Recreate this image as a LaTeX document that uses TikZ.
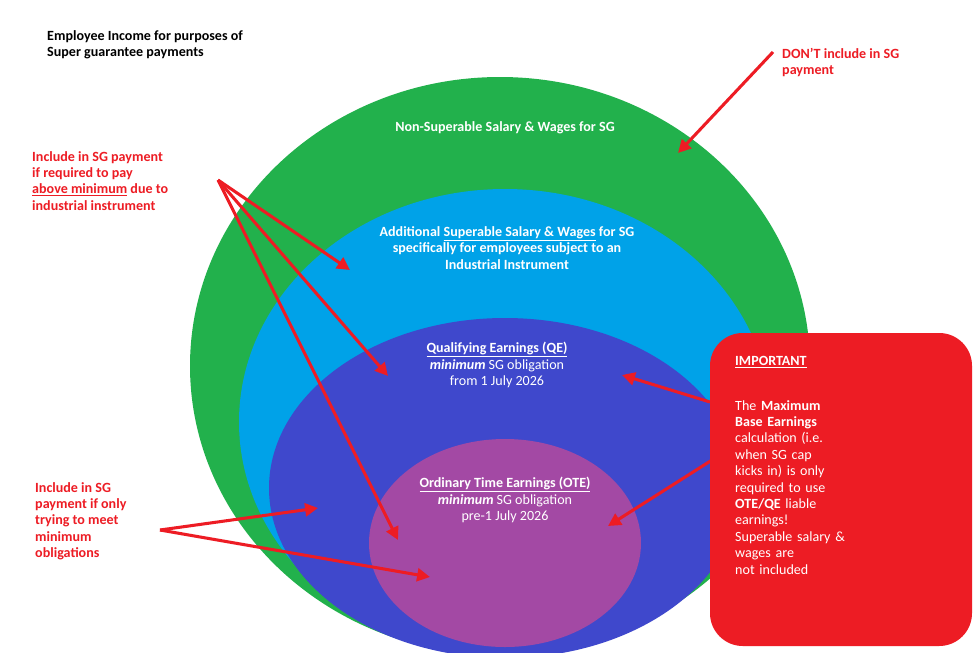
\documentclass[tikz,border=0pt]{standalone}
\usepackage{fontspec}
\setmainfont{Carlito}
\usetikzlibrary{arrows.meta}
\definecolor{sggreen}{RGB}{34,177,76}
\definecolor{sglblue}{RGB}{0,162,232}
\definecolor{sgdblue}{RGB}{63,72,204}
\definecolor{sgpurple}{RGB}{163,73,164}
\definecolor{sgred}{RGB}{237,28,36}
\tikzset{
  lbl/.style={font=\bfseries\large, align=center, text=white, inner sep=0pt},
  note/.style={font=\bfseries\large, align=left, text=sgred, anchor=north west, inner sep=0pt},
  pointer/.style={draw=sgred, line width=2.6pt, -{Triangle[length=11pt,width=11pt]}}
}
\begin{document}
\begin{tikzpicture}[x=0.03cm, y=-0.03cm]
\useasboundingbox (0,0) rectangle (975,664);
\fill[white] (0,0) rectangle (975,664);
% nested earnings
\begin{scope}
\clip (0,0) rectangle (975,652);
\fill[sggreen] (500,366) ellipse (310 and 289);
\fill[sglblue] (505,422) ellipse (266 and 233);
\fill[sgdblue] (505,488) ellipse (236 and 170);
\fill[sgpurple] (505,543) ellipse (136 and 104);
\end{scope}
\fill[sgred, rounded corners=28pt] (710,333) rectangle (972,646);
% texts
\node[font=\bfseries\large, align=left, anchor=north west, inner sep=0pt] (title) at (47,30)
  {Employee Income for purposes of\\Super guarantee payments};
\node[note] (dont) at (782,48) {DON'T include in SG\\payment};
\node[lbl] (nonsup) at (505,128) {Non-Superable Salary \& Wages for SG};
\node[lbl] (addsup) at (507,248) {Additional \underline{Superable Salary \& Wages} for SG\\specifically for employees subject to an\\Industrial Instrument};
\node[lbl] (qe) at (497,365) {\underline{Qualifying Earnings (QE)}\\\textit{minimum} \mdseries SG obligation\\\mdseries from 1 July 2026};
\node[lbl] (ote) at (505,500) {\underline{Ordinary Time Earnings (OTE)}\\\textit{minimum} \mdseries SG obligation\\\mdseries pre-1 July 2026};
\node[note] (above) at (32,151) {Include in SG payment\\if required to pay\\\underline{above minimum} due to\\industrial instrument};
\node[note] (onlymin) at (35,482) {Include in SG\\payment if only\\trying to meet\\minimum\\obligations};
\node[lbl, anchor=north west, align=left] (imp) at (735,356) {\underline{IMPORTANT}};
\node[lbl, anchor=north west, align=left, font=\large, text width=235\pgflinewidth] (impt) at (735,400)
  {The \textbf{Maximum Base Earnings}\\calculation (i.e. when SG cap\\kicks in) is only required to use\\\textbf{OTE/QE} liable earnings!\\Superable salary \& wages are\\not included};
% pointers
\coordinate (dontS) at (773,52);
\coordinate (dontE) at (678,153);
\coordinate (aboveS) at (218,180);
\coordinate (aboveA) at (350,270);
\coordinate (aboveB) at (388,376);
\coordinate (aboveC) at (398,540);
\coordinate (minS) at (160,530);
\coordinate (minA) at (318,508);
\coordinate (minB) at (430,577);
\coordinate (impA) at (710,402);
\coordinate (impQE) at (622,375);
\coordinate (impB) at (712,460);
\coordinate (impOTE) at (608,526);
\draw[pointer] (dontS) -- (dontE);
\foreach \t in {aboveA,aboveB,aboveC}
  \draw[pointer] (aboveS) -- (\t);
\foreach \t in {minA,minB}
  \draw[pointer] (minS) -- (\t);
\draw[pointer] (impA) -- (impQE);
\draw[pointer] (impB) -- (impOTE);
\end{tikzpicture}
\end{document}
